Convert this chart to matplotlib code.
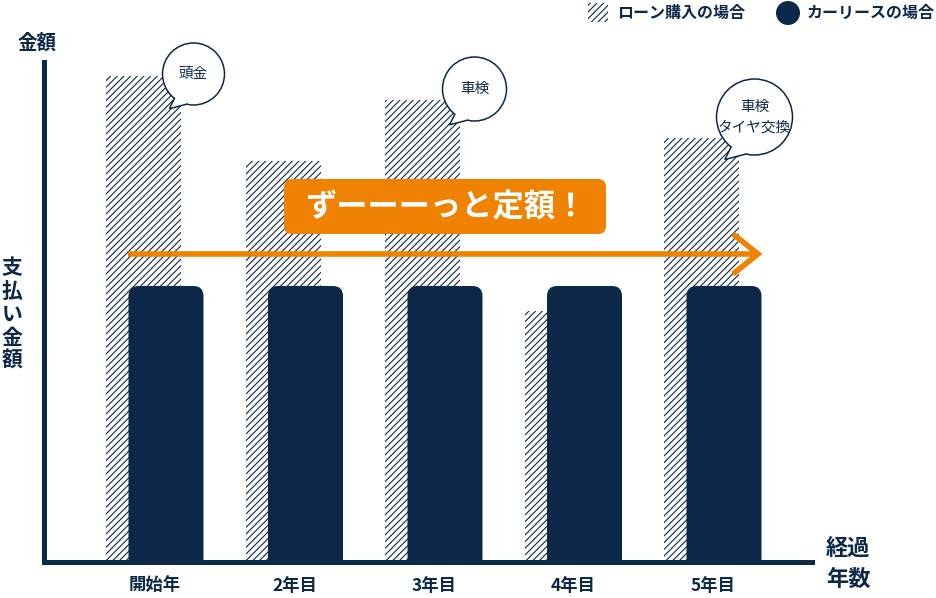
import numpy as np
import matplotlib
matplotlib.use('Agg')
import matplotlib.pyplot as plt
from matplotlib.patches import FancyBboxPatch, Circle, Polygon, Rectangle

plt.rcParams['font.family'] = ['Noto Sans CJK JP', 'DejaVu Sans']
plt.rcParams['hatch.linewidth'] = 0.8

# data
categories = ['開始年', '2年目', '3年目', '4年目', '5年目']
loan = [486, 401, 462, 251, 424]
lease = [276, 276, 276, 276, 276]
notes = ['頭金', '', '車検', '', '車検\nタイヤ交換']

NAVY = '#0c2848'
ORANGE = '#ef8200'
W, H = 936, 598
step = 139.5          # pixels between categories
px = 1 / step         # one pixel in x data units

fig = plt.figure(figsize=(W / 100, H / 100), dpi=100)
ax = fig.add_axes([44 / W, 36 / H, (812 - 44) / W, 500 / H])
ax.set_xlim((44 - 155) / step, (812 - 155) / step)
ax.set_ylim(0, 500)

x = np.arange(len(categories))
bw = 75 * px
ax.bar(x - 11 * px, loan, width=bw, facecolor='white', edgecolor=NAVY,
       linewidth=0, hatch='/////', zorder=1)

# lease bars with rounded tops
for xi, v in zip(x, lease):
    r = 10 * px
    p = FancyBboxPatch((xi + 11 * px - bw / 2, -30), bw, v + 30,
                       boxstyle=f'round,pad=0,rounding_size={r}',
                       mutation_aspect=step, facecolor=NAVY, edgecolor='none',
                       zorder=3)
    ax.add_patch(p)

for s in ['top', 'right']:
    ax.spines[s].set_visible(False)
for s in ['left', 'bottom']:
    ax.spines[s].set_linewidth(3.6)
    ax.spines[s].set_color(NAVY)
    ax.spines[s].set_zorder(5)
ax.set_yticks([])
ax.set_xticks(x, categories, fontsize=12.5, fontweight='bold', color=NAVY)
ax.tick_params(axis='x', length=0, pad=11)

# decoration layer in pixel coordinates
deco = fig.add_axes([0, 0, 1, 1], zorder=10)
deco.set_xlim(0, W)
deco.set_ylim(H, 0)
deco.axis('off')
deco.patch.set_alpha(0)


def to_px(xd, yd):
    dx, dy = ax.transData.transform((xd, yd))
    return dx, H - dy


# speech bubbles
bub = {0: (12, -2, 31), 2: (14, -11, 32), 4: (15, -21, 38)}
for i, (ox, oy, rad) in bub.items():
    cx0, cy0 = to_px(x[i] - 11 * px + bw / 2, loan[i])
    cx, cy = cx0 + ox, cy0 + oy
    tip = (cx - rad * 0.78, cy + rad * 1.12)
    a1, a2 = np.deg2rad(128), np.deg2rad(103)
    b1 = (cx + rad * np.cos(a1), cy + rad * np.sin(a1))
    b2 = (cx + rad * np.cos(a2), cy + rad * np.sin(a2))
    deco.add_patch(Circle((cx, cy), rad, facecolor='white', edgecolor=NAVY, lw=1.1))
    deco.add_patch(Polygon([b1, tip, b2, (cx, cy)], closed=True,
                           facecolor='white', edgecolor='none'))
    deco.plot([b1[0], tip[0], b2[0]], [b1[1], tip[1], b2[1]], color=NAVY, lw=1.1,
              solid_joinstyle='miter')
    deco.text(cx, cy, notes[i], ha='center', va='center', fontsize=10.5,
              color=NAVY, linespacing=1.6)

# orange arrow
ay = 254
deco.plot([128, 757], [ay, ay], color=ORANGE, lw=4, solid_capstyle='butt')
deco.plot([733, 758, 733], [ay - 20, ay, ay + 20], color=ORANGE, lw=4,
          solid_joinstyle='miter', solid_capstyle='butt')

# banner
deco.add_patch(FancyBboxPatch((284, 179), 322, 55,
                              boxstyle='round,pad=0,rounding_size=8',
                              facecolor=ORANGE, edgecolor='none'))
deco.text(446, 207, 'ずーーーっと定額！', ha='center', va='center', fontsize=22.5,
          fontweight='bold', color='white')

# axis titles
deco.text(18, 43, '金額', ha='left', va='center', fontsize=14,
          fontweight='bold', color=NAVY)
for k, ch in enumerate('支払い金額'):
    deco.text(12, 268 + 23 * k, ch, ha='center', va='center', fontsize=15,
              fontweight='bold', color=NAVY)
deco.text(826, 564, '経過\n年数', ha='left', va='center', fontsize=16,
          fontweight='bold', color=NAVY, linespacing=1.45)

# legend
deco.add_patch(Rectangle((588, 3), 20, 19, facecolor='white', edgecolor=NAVY,
                         lw=0, hatch='/////'))
deco.text(617, 13, 'ローン購入の場合', ha='left', va='center', fontsize=11.5,
          fontweight='bold', color=NAVY)
deco.add_patch(Circle((788, 13), 12, facecolor=NAVY, edgecolor='none'))
deco.text(807, 13, 'カーリースの場合', ha='left', va='center', fontsize=11.5,
          fontweight='bold', color=NAVY)

fig.savefig('out.png', dpi=100)
